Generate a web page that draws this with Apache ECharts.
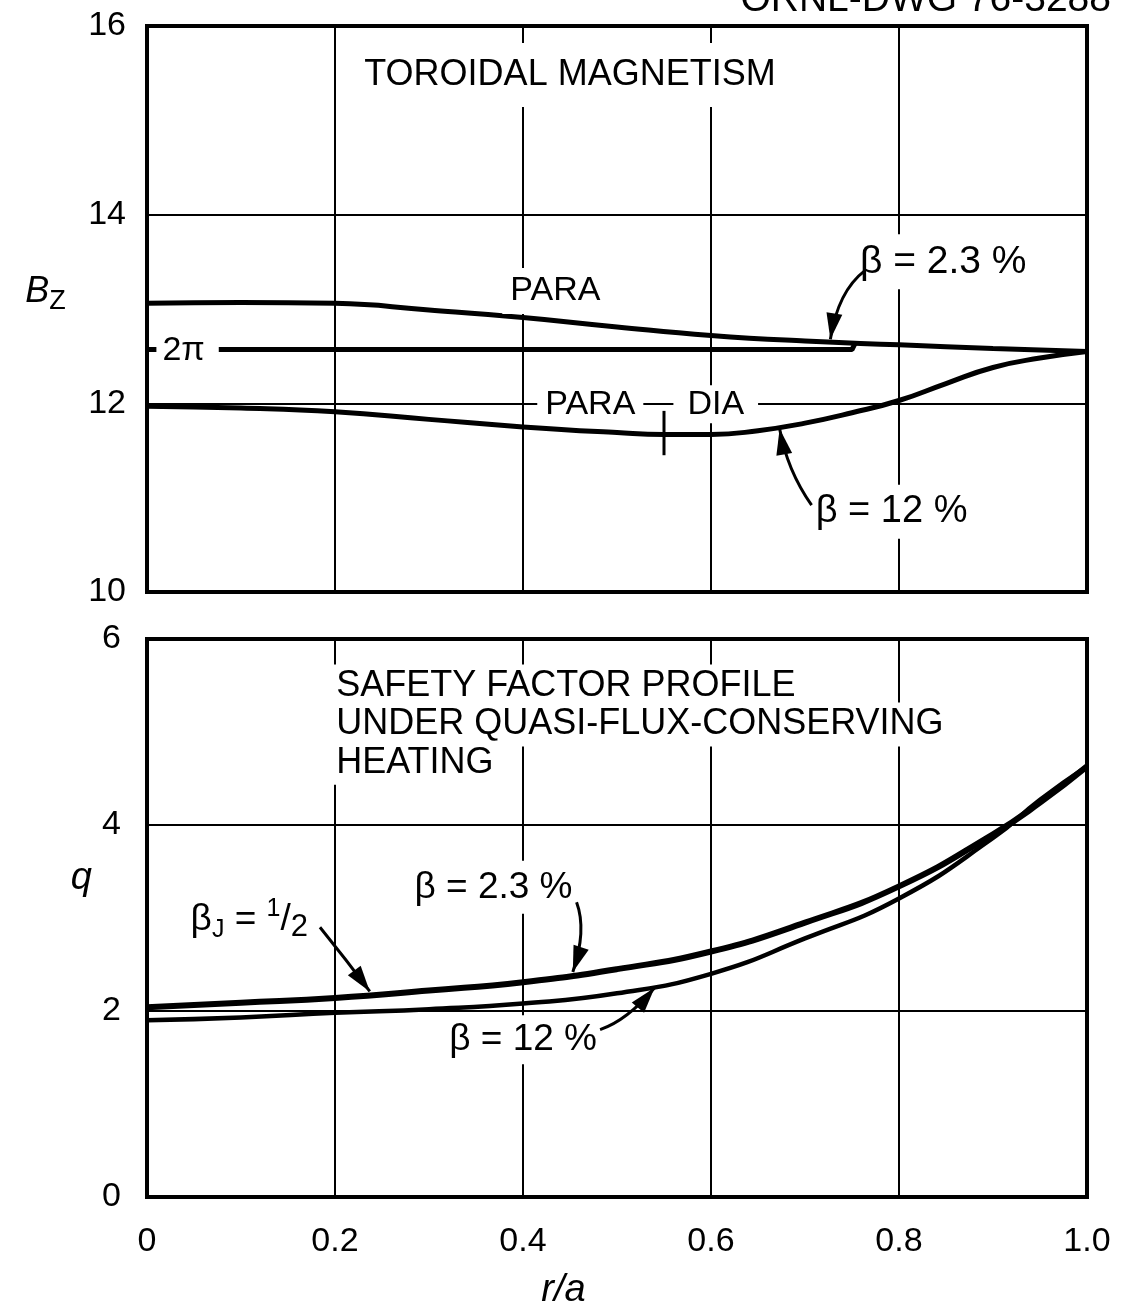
<!DOCTYPE html>
<html><head><meta charset="utf-8">
<script src="https://cdn.jsdelivr.net/npm/echarts@6/dist/echarts.min.js"></script>
<style>html,body{margin:0;padding:0;background:#fff}#c{width:1121px;height:1316px}</style>
</head><body><div id="c"></div>
<script>
// ---- data ----
const rPara = [0, 0.1, 0.2, 0.3, 0.4, 0.5, 0.6, 0.7, 0.8, 0.9, 1.0];
const bzPara = [13.06, 13.07, 13.06, 12.99, 12.91, 12.81, 12.72, 12.66, 12.62, 12.58, 12.55];
const rDia = [0, 0.1, 0.2, 0.3, 0.4, 0.5, 0.55, 0.6, 0.65, 0.7, 0.75, 0.8, 0.85, 0.9, 0.95, 1.0];
const bzDia = [11.97, 11.95, 11.91, 11.83, 11.75, 11.69, 11.67, 11.67, 11.71, 11.79, 11.90, 12.03, 12.21, 12.38, 12.48, 12.55];
const r2pi = [0, 0.75, 0.753];
const bz2pi = [12.57, 12.57, 12.63];
const rQ = [0, 0.1, 0.2, 0.3, 0.4, 0.5, 0.6, 0.7, 0.8, 0.9, 0.95, 1.0];
const q23 = [2.04, 2.09, 2.14, 2.22, 2.31, 2.45, 2.64, 2.95, 3.34, 3.90, 4.24, 4.63];
const q12 = [1.90, 1.93, 1.98, 2.02, 2.08, 2.19, 2.40, 2.78, 3.21, 3.86, 4.27, 4.63];
const xTicks = ['0', '0.2', '0.4', '0.6', '0.8', '1.0'];
const bzTicks = ['10', '12', '14', '16'];
const qTicks = ['0', '2', '4', '6'];

const FONT = '"Liberation Sans", Arial, sans-serif';
const pairs = (xs, ys) => xs.map((x, i) => [x, ys[i]]);

const chart = echarts.init(document.getElementById('c'), null, {renderer: 'canvas'});

const gridLine = {show: true, lineStyle: {color: '#000', width: 2}};
const option = {
  animation: false,
  backgroundColor: '#fff',
  grid: [
    {left: 147, top: 26, width: 940, height: 566, show: true, borderColor: '#000', borderWidth: 4, backgroundColor: 'transparent'},
    {left: 147, top: 639, width: 940, height: 558, show: true, borderColor: '#000', borderWidth: 4, backgroundColor: 'transparent'}
  ],
  xAxis: [
    {gridIndex: 0, type: 'value', min: 0, max: 1, interval: 0.2,
     axisLine: {show: false}, axisTick: {show: false}, axisLabel: {show: false}, splitLine: gridLine},
    {gridIndex: 1, type: 'value', min: 0, max: 1, interval: 0.2,
     axisLine: {show: false}, axisTick: {show: false}, splitLine: gridLine,
     axisLabel: {show: true, color: '#000', fontSize: 34, fontFamily: FONT, margin: 28,
                 formatter: v => xTicks[Math.round(v / 0.2)]}}
  ],
  yAxis: [
    {gridIndex: 0, type: 'value', min: 10, max: 16, interval: 2,
     axisLine: {show: false}, axisTick: {show: false}, splitLine: gridLine,
     axisLabel: {color: '#000', fontSize: 34, fontFamily: FONT, margin: 21,
                 formatter: v => bzTicks[Math.round((v - 10) / 2)]}},
    {gridIndex: 1, type: 'value', min: 0, max: 6, interval: 2,
     axisLine: {show: false}, axisTick: {show: false}, splitLine: gridLine,
     axisLabel: {color: '#000', fontSize: 34, fontFamily: FONT, margin: 26,
                 formatter: v => qTicks[Math.round(v / 2)]}}
  ],
  series: [
    {name: 'PARA β=2.3%', type: 'line', xAxisIndex: 0, yAxisIndex: 0, data: pairs(rPara, bzPara),
     showSymbol: false, smooth: 0.5, lineStyle: {color: '#000', width: 5}, z: 5},
    {name: 'β=12%', type: 'line', xAxisIndex: 0, yAxisIndex: 0, data: pairs(rDia, bzDia),
     showSymbol: false, smooth: 0.5, lineStyle: {color: '#000', width: 5}, z: 5},
    {name: '2π', type: 'line', xAxisIndex: 0, yAxisIndex: 0, data: pairs(r2pi, bz2pi),
     showSymbol: false, smooth: false, lineStyle: {color: '#000', width: 5}, z: 5},
    {name: 'q β=2.3%', type: 'line', xAxisIndex: 1, yAxisIndex: 1, data: pairs(rQ, q23),
     showSymbol: false, smooth: 0.5, lineStyle: {color: '#000', width: 6}, z: 5},
    {name: 'q β=12%', type: 'line', xAxisIndex: 1, yAxisIndex: 1, data: pairs(rQ, q12),
     showSymbol: false, smooth: 0.5, lineStyle: {color: '#000', width: 4.5}, z: 5}
  ]
};
chart.setOption(option);

// ---- annotations placed in data coordinates ----
const P = (g, x, y) => chart.convertToPixel({gridIndex: g}, [x, y]);
const graphics = [];
function txt(g, x, y, text, opt) {
  opt = opt || {};
  const p = P(g, x, y);
  graphics.push({type: 'text', x: p[0], y: p[1], z: 100,
    style: Object.assign({text: text, fill: '#000', fontSize: opt.size || 34, fontFamily: FONT,
      fontStyle: opt.italic ? 'italic' : 'normal',
      align: opt.align || 'left', verticalAlign: 'middle',
      backgroundColor: opt.bg === false ? 'transparent' : '#fff', padding: opt.pad || [4, 6]}, opt.extra || {})});
}
function arrow(g, s, c, t) {
  const a = P(g, s[0], s[1]), b = P(g, c[0], c[1]), e = P(g, t[0], t[1]);
  graphics.push({type: 'bezierCurve', z: 101,
    shape: {x1: a[0], y1: a[1], cpx1: b[0], cpy1: b[1], x2: e[0], y2: e[1]},
    style: {stroke: '#000', lineWidth: 3, fill: null}});
  let dx = e[0] - b[0], dy = e[1] - b[1];
  const L = Math.hypot(dx, dy); dx /= L; dy /= L;
  const len = 26, hw = 8;
  const bx = e[0] - dx * len, by = e[1] - dy * len;
  graphics.push({type: 'polygon', z: 101,
    shape: {points: [[e[0], e[1]], [bx - dy * hw, by + dx * hw], [bx + dy * hw, by - dx * hw]]},
    style: {fill: '#000'}});
}
function seg(g, s, t, w) {
  const a = P(g, s[0], s[1]), b = P(g, t[0], t[1]);
  graphics.push({type: 'line', z: 101, shape: {x1: a[0], y1: a[1], x2: b[0], y2: b[1]},
    style: {stroke: '#000', lineWidth: w || 3}});
}

// top panel
txt(0, 0.212, 15.48, 'TOROIDAL MAGNETISM', {size: 36, pad: [14, 18]});
txt(0, 0.378, 13.19, 'PARA', {size: 34, pad: [6, 8]});
txt(0, 0.528, 11.99, 'PARA', {size: 34, align: 'right', pad: [2, 8]});
txt(0, 0.560, 11.99, 'DIA', {size: 34, pad: [2, 14]});
txt(0, 0.010, 12.56, '2π', {size: 34, pad: [2, 14, 2, 6]});
txt(0, 0.752, 13.50, 'β = 2.3 %', {size: 39, pad: [8, 6]});
txt(0, 0.705, 10.85, 'β = 12 %', {size: 38, pad: [8, 6]});
arrow(0, [0.764, 13.41], [0.735, 13.19], [0.727, 12.68]);
arrow(0, [0.707, 10.92], [0.681, 11.29], [0.673, 11.73]);
seg(0, [0.550, 11.92], [0.550, 11.45], 3);

// bottom panel
txt(1, 0.197, 5.49, 'SAFETY FACTOR PROFILE', {size: 36, pad: [4, 4]});
txt(1, 0.197, 5.08, 'UNDER QUASI-FLUX-CONSERVING', {size: 36, pad: [4, 4]});
txt(1, 0.197, 4.67, 'HEATING', {size: 36, pad: [4, 4]});
txt(1, 0.276, 3.33, 'β = 2.3 %', {size: 37, pad: [8, 8]});
txt(1, 0.313, 1.69, 'β = 12 %', {size: 37, pad: [6, 8]});
(function () {
  const p = P(1, 0.040, 2.98);
  graphics.push({type: 'text', x: p[0], y: p[1], z: 100, style: {
    text: '{a|β}{j|J}{a| = }{n|1}{a|/}{d|2}', fontFamily: FONT, fill: '#000',
    align: 'left', verticalAlign: 'middle', backgroundColor: '#fff', padding: [6, 6],
    rich: {
      a: {fontSize: 37, lineHeight: 46, fontFamily: FONT, fill: '#000'},
      j: {fontSize: 25, lineHeight: 25, verticalAlign: 'bottom', fontFamily: FONT, fill: '#000'},
      n: {fontSize: 25, lineHeight: 25, verticalAlign: 'top', fontFamily: FONT, fill: '#000'},
      d: {fontSize: 31, lineHeight: 31, verticalAlign: 'bottom', fontFamily: FONT, fill: '#000'}
    }}});
})();
arrow(1, [0.184, 2.90], [0.212, 2.55], [0.237, 2.21]);
arrow(1, [0.457, 3.17], [0.468, 2.87], [0.453, 2.42]);
arrow(1, [0.482, 1.80], [0.511, 1.90], [0.540, 2.25]);

// axis names
(function () {
  const p = P(0, -0.108, 13.18);
  graphics.push({type: 'text', x: p[0], y: p[1], z: 100, style: {
    text: '{b|B}{s|Z}', fontFamily: FONT, fill: '#000', align: 'center', verticalAlign: 'middle',
    rich: {
      b: {fontSize: 36, lineHeight: 46, fontStyle: 'italic', fontFamily: FONT, fill: '#000'},
      s: {fontSize: 27, lineHeight: 27, verticalAlign: 'bottom', fontFamily: FONT, fill: '#000'}
    }}});
  const q = P(1, -0.07, 3.43);
  graphics.push({type: 'text', x: q[0], y: q[1], z: 100, style: {
    text: 'q', fontSize: 38, fontStyle: 'italic', fontFamily: FONT, fill: '#000',
    align: 'center', verticalAlign: 'middle'}});
  const ra = P(1, 0.443, -1.0);
  graphics.push({type: 'text', x: ra[0], y: ra[1], z: 100, style: {
    text: 'r/a', fontSize: 38, fontStyle: 'italic', fontFamily: FONT, fill: '#000',
    align: 'center', verticalAlign: 'middle'}});
})();

// drawing number at top right (clipped by page edge as in the reference)
graphics.push({type: 'text', right: 10, top: -19, z: 100, style: {
  text: 'ORNL-DWG 76-3288', fontSize: 39, fontFamily: FONT, fill: '#000'}});

chart.setOption({graphic: graphics});
</script>
</body></html>
